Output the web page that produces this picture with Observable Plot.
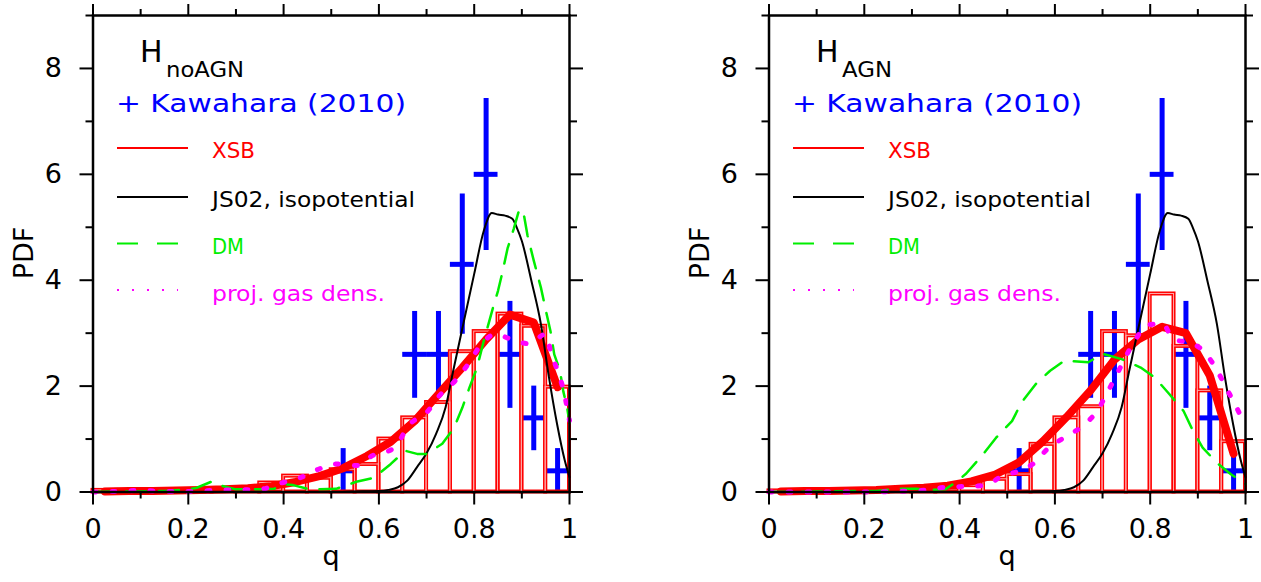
<!DOCTYPE html>
<html><head><meta charset="utf-8">
<script src="https://cdn.jsdelivr.net/npm/d3@7"></script>
<script src="https://cdn.jsdelivr.net/npm/@observablehq/plot@0.6"></script>
<style>
body{margin:0;background:#fff;}
#wrap{position:relative;width:1261px;height:582px;overflow:hidden;background:#fff;}
.panel{position:absolute;top:0;}
</style>
</head><body><div id="wrap"></div>
<script>
// ---------- data ----------
const binEdges = [0,0.05,0.1,0.15,0.2,0.25,0.3,0.35,0.4,0.45,0.5,0.55,0.6,0.65,0.7,0.75,0.8,0.85,0.9,0.95,1.0];
const histNoAGN = [0.03,0.03,0.03,0.03,0.04,0.05,0.08,0.17,0.30,0.26,0.42,0.52,1.00,1.40,1.69,2.65,3.03,3.36,3.13,1.98];
const histAGN   = [0.02,0.02,0.02,0.03,0.03,0.05,0.06,0.08,0.12,0.24,0.33,0.90,1.40,1.61,3.03,2.95,3.74,2.75,1.91,0.95];

const xsbQ = [0.025,0.075,0.125,0.175,0.225,0.275,0.325,0.375,0.425,0.475,0.525,0.575,0.625,0.675,0.725,0.775,0.825,0.875,0.925,0.975];
const xsbNoAGN = [0.01,0.02,0.02,0.03,0.04,0.05,0.07,0.11,0.19,0.30,0.45,0.68,0.95,1.34,1.85,2.35,2.88,3.35,3.20,1.98];
const xsbAGN   = [0.01,0.02,0.02,0.03,0.04,0.06,0.08,0.12,0.20,0.33,0.56,0.96,1.42,1.92,2.50,2.88,3.12,3.00,2.20,0.72];

const js02Q   = [0,0.1,0.2,0.3,0.4,0.5,0.55,0.6,0.62,0.64,0.66,0.68,0.7,0.72,0.74,0.756,0.777,0.8,0.82,0.837,0.85,0.865,0.88,0.89,0.9,0.92,0.94,0.957,0.974,0.99,1.0];
const js02PDF = [0,0,0,0,0,0,0.01,0.02,0.04,0.09,0.22,0.47,0.73,1.10,1.60,2.29,3.17,4.12,4.93,5.27,5.24,5.22,5.16,4.98,4.74,3.99,3.17,2.16,1.28,0.60,0.28];

const dmNoAGNQ   = [0,0.05,0.1,0.15,0.2,0.218,0.25,0.265,0.3,0.35,0.38,0.4,0.42,0.45,0.47,0.51,0.555,0.59,0.625,0.655,0.68,0.7,0.733,0.757,0.775,0.79,0.806,0.82,0.84,0.85,0.86,0.87,0.883,0.895,0.905,0.912,0.925,0.94,0.952,0.96,0.968,0.98,0.987,0.995,1.0];
const dmNoAGNPDF = [0,0.01,0.01,0.02,0.05,0.08,0.20,0.13,0.05,0.05,0.06,0.15,0.13,0.06,0.05,0.06,0.20,0.27,0.53,0.78,0.72,0.72,0.91,1.20,1.59,1.97,2.35,2.85,3.50,3.80,4.18,4.60,4.97,5.35,5.20,4.84,4.37,3.86,3.36,3.04,2.60,2.29,1.90,1.60,1.30];
const dmAGNQ   = [0,0.1,0.2,0.225,0.267,0.31,0.33,0.37,0.393,0.414,0.449,0.477,0.51,0.53,0.56,0.59,0.62,0.67,0.70,0.74,0.78,0.81,0.84,0.87,0.89,0.91,0.94,0.97,1.0];
const dmAGNPDF = [0,0.01,0.02,0.02,0.06,0.06,0.04,0.05,0.19,0.35,0.71,1.03,1.34,1.69,2.04,2.29,2.48,2.45,2.61,2.51,2.35,2.16,1.85,1.53,1.15,0.84,0.55,0.33,0.15];

const gasNoAGNQ   = [0,0.05,0.1,0.15,0.2,0.25,0.3,0.35,0.395,0.435,0.473,0.512,0.555,0.585,0.63,0.666,0.7,0.73,0.76,0.79,0.81,0.845,0.876,0.915,0.95,0.962,0.975,0.988,1.0];
const gasNoAGNPDF = [0,0.01,0.03,0.01,0.01,0.03,0.04,0.05,0.17,0.27,0.43,0.53,0.50,0.68,0.82,1.29,1.50,1.85,2.10,2.45,2.73,2.98,2.89,2.80,2.98,2.60,2.29,1.90,1.35];
const gasAGNQ   = [0,0.1,0.2,0.3,0.34,0.36,0.4,0.45,0.49,0.525,0.557,0.585,0.62,0.66,0.69,0.71,0.73,0.75,0.77,0.792,0.826,0.848,0.89,0.918,0.94,0.96,0.981,1.0];
const gasAGNPDF = [0,0,0,0.02,0.05,0.08,0.10,0.12,0.30,0.40,0.55,0.82,1.03,1.26,1.55,1.88,2.22,2.58,2.89,3.15,3.18,2.89,2.80,2.60,2.30,1.96,1.60,1.25];

const kawQ   = [0.525,0.675,0.725,0.775,0.825,0.875,0.925,0.975];
const kawPDF = [0.4,2.6,2.6,4.3,6.0,2.6,1.4,0.4];
const kawLo  = [0,1.77,1.77,2.98,4.56,1.58,0.78,0];
const kawHi  = [0.82,3.41,3.41,5.63,7.43,3.60,2.00,0.82];
const kawHalfWidth = 0.025;

const xMajor = [0,0.2,0.4,0.6,0.8,1];
const xMinor = [0.1,0.3,0.5,0.7,0.9];
const yMajor = [0,2,4,6,8];
const yMinor = [1,3,5,7,9];

const legendLabels = ["XSB","JS02, isopotential","DM","proj. gas dens."];
const subLabels = ["noAGN","AGN"];

// ---------- helpers ----------
const pairs = (qs, vs) => qs.map((q, i) => ({q, v: vs[i]}));
const histRows = h => h.map((v, i) => ({x1: binEdges[i], x2: binEdges[i+1], y1: 0, v}));
const kawRows = kawQ.map((q, i) => ({q, v: kawPDF[i], lo: kawLo[i], hi: kawHi[i], x1: q - kawHalfWidth, x2: q + kawHalfWidth}));

const FONT = "'DejaVu Sans', sans-serif";
const BLUE = "#0000ff", RED = "#ff0000", GREEN = "#00ee00", MAG = "#ff00ff";

function makePanel(hist, xsb, dmQ, dmV, gasQ, gasV, sub, subLen) {
  const hr = histRows(hist);
  const blank = () => "";
  const plot = Plot.plot({
    width: 585, height: 582,
    marginLeft: 92.5, marginRight: 16, marginTop: 15, marginBottom: 90.5,
    x: {domain: [0, 1]},
    y: {domain: [0, 9]},
    style: {fontFamily: FONT, fontSize: "27px", background: "transparent", overflow: "visible", color: "#000"},
    marks: [
      Plot.ruleX(kawRows, {x: "q", y1: "lo", y2: "hi", stroke: BLUE, strokeWidth: 5}),
      Plot.ruleY(kawRows, {y: "v", x1: "x1", x2: "x2", stroke: BLUE, strokeWidth: 5}),
      Plot.rect(hr, {x1: "x1", x2: "x2", y1: "y1", y2: "v", fill: "none", stroke: RED, strokeWidth: 4}),
      Plot.rect(hr, {x1: "x1", x2: "x2", y1: "y1", y2: "v", fill: "none", stroke: "#ffa8a8", strokeWidth: 1}),
      Plot.line(pairs(xsbQ, xsb), {x: "q", y: "v", stroke: RED, strokeWidth: 8, strokeLinejoin: "round"}),
      Plot.line(pairs(js02Q, js02PDF), {x: "q", y: "v", stroke: "#000", strokeWidth: 2, curve: "monotone-x"}),
      Plot.line(pairs(dmQ, dmV), {x: "q", y: "v", stroke: GREEN, strokeWidth: 2.5, strokeDasharray: "20,13"}),
      Plot.line(pairs(gasQ, gasV), {x: "q", y: "v", stroke: MAG, strokeWidth: 5, strokeDasharray: "3,16", strokeLinecap: "round", curve: "monotone-x"}),
      Plot.frame({stroke: "#000", strokeWidth: 2.5}),
      Plot.axisX(xMajor, {anchor: "bottom", tickSize: 13, tickPadding: 14, tickFormat: d => String(d), strokeWidth: 2, label: null, fontSize: 27}),
      Plot.axisX(xMinor, {anchor: "bottom", tickSize: 7, tickFormat: blank, strokeWidth: 2, label: null}),
      Plot.axisX(xMajor, {anchor: "top", tickSize: 12, tickFormat: blank, strokeWidth: 2, label: null}),
      Plot.axisX(xMinor, {anchor: "top", tickSize: 7, tickFormat: blank, strokeWidth: 2, label: null}),
      Plot.axisY(yMajor, {anchor: "left", tickSize: 13, tickPadding: 18, tickFormat: d => String(d), strokeWidth: 2, label: null, fontSize: 27}),
      Plot.axisY(yMinor, {anchor: "left", tickSize: 7, tickFormat: blank, strokeWidth: 2, label: null}),
      Plot.axisY(yMajor, {anchor: "right", tickSize: 13, tickFormat: blank, strokeWidth: 2, label: null}),
      Plot.axisY(yMinor, {anchor: "right", tickSize: 7, tickFormat: blank, strokeWidth: 2, label: null})
    ]
  });

  const svg = d3.select(plot);
  const g = svg.append("g").attr("font-family", FONT).attr("text-anchor", "start");
  // axis titles
  g.append("text").attr("x", 331).attr("y", 565).attr("text-anchor", "middle").attr("font-size", 27).attr("fill", "#000").text("q");
  g.append("text").attr("transform", "translate(33,253) rotate(-90)").attr("text-anchor", "middle").attr("font-size", 27).attr("fill", "#000").text("PDF");
  // panel label
  g.append("text").attr("x", 140).attr("y", 62).attr("font-size", 30).attr("fill", "#000").text("H");
  g.append("text").attr("x", 166).attr("y", 77).attr("font-size", 21).attr("fill", "#000")
    .attr("textLength", subLen).attr("lengthAdjust", "spacingAndGlyphs").text(sub);
  // Kawahara legend
  g.append("text").attr("x", 116).attr("y", 112).attr("font-size", 24).attr("fill", BLUE)
    .attr("textLength", 290).attr("lengthAdjust", "spacingAndGlyphs").text("+ Kawahara (2010)");
  // line legend
  const rowsY = [148, 197, 243.5, 290];
  const baseY = [158, 207, 254, 301];
  const colors = [RED, "#000", GREEN, MAG];
  const lens = [43, 203, 32, 173];
  const dash = [null, null, "21,19", "2,13"];
  legendLabels.forEach((lab, i) => {
    const ln = g.append("line").attr("x1", 117).attr("x2", 188).attr("y1", rowsY[i]).attr("y2", rowsY[i])
      .attr("stroke", colors[i]).attr("stroke-width", 2);
    if (dash[i]) ln.attr("stroke-dasharray", dash[i]);
    if (i === 3) ln.attr("x2", 178);
    g.append("text").attr("x", 212).attr("y", baseY[i]).attr("font-size", 21).attr("fill", colors[i])
      .attr("textLength", lens[i]).attr("lengthAdjust", "spacingAndGlyphs").text(lab);
  });
  return plot;
}

const wrap = document.getElementById("wrap");
const p1 = makePanel(histNoAGN, xsbNoAGN, dmNoAGNQ, dmNoAGNPDF, gasNoAGNQ, gasNoAGNPDF, subLabels[0], 78);
p1.classList.add("panel"); p1.style.left = "0px";
wrap.appendChild(p1);
const p2 = makePanel(histAGN, xsbAGN, dmAGNQ, dmAGNPDF, gasAGNQ, gasAGNPDF, subLabels[1], 50);
p2.classList.add("panel"); p2.style.left = "676px";
wrap.appendChild(p2);
</script></body></html>
